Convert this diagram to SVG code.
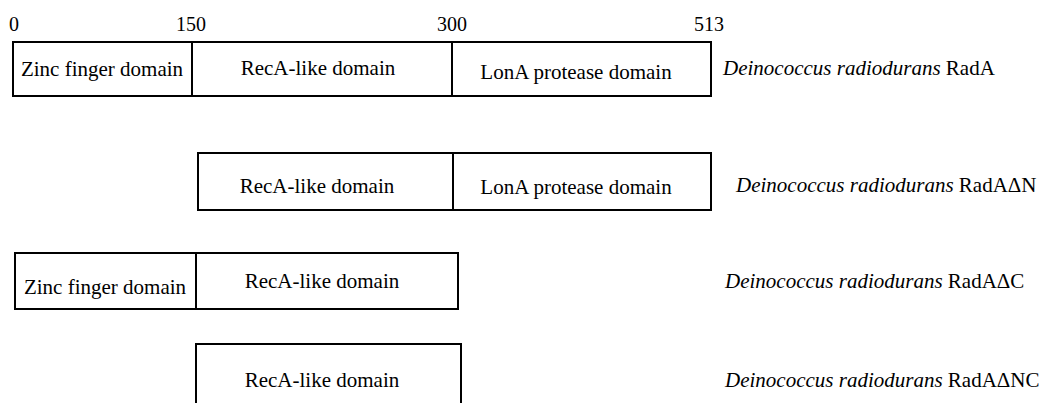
<svg xmlns="http://www.w3.org/2000/svg" width="1042" height="403" viewBox="0 0 1042 403">
<style>
.box{fill:#fff;stroke:#000;stroke-width:2}
.div{stroke:#000;stroke-width:2;fill:none}
text{font-family:'Liberation Serif','Times New Roman',serif;font-size:21px;fill:#000}
.num{font-size:20px;text-anchor:middle}
.c{text-anchor:middle}
.sp{font-style:italic}
</style>
<rect width="1042" height="403" fill="#fff"/>
<g id="scale">
<text class="num" x="14" y="31">0</text>
<text class="num" x="191" y="31">150</text>
<text class="num" x="452" y="31">300</text>
<text class="num" x="709" y="31">513</text>
</g>
<g id="radA">
<rect class="box" x="13" y="42" width="698" height="54"/>
<line class="div" x1="192" y1="42" x2="192" y2="96"/>
<line class="div" x1="452" y1="42" x2="452" y2="96"/>
<text class="c" x="102" y="76">Zinc finger domain</text>
<text class="c" x="318" y="75">RecA-like domain</text>
<text class="c" x="576" y="79">LonA protease domain</text>
<text x="723" y="75"><tspan class="sp">Deinococcus radiodurans</tspan> RadA</text>
</g>
<g id="radAdN">
<rect class="box" x="198" y="153" width="513" height="57"/>
<line class="div" x1="453" y1="153" x2="453" y2="210"/>
<text class="c" x="317" y="193">RecA-like domain</text>
<text class="c" x="576" y="194">LonA protease domain</text>
<text x="736" y="192"><tspan class="sp">Deinococcus radiodurans</tspan> RadAΔN</text>
</g>
<g id="radAdC">
<rect class="box" x="15" y="253" width="443" height="56"/>
<line class="div" x1="196" y1="253" x2="196" y2="309"/>
<text class="c" x="105" y="294">Zinc finger domain</text>
<text class="c" x="322" y="288">RecA-like domain</text>
<text x="725" y="288"><tspan class="sp">Deinococcus radiodurans</tspan> RadAΔC</text>
</g>
<g id="radAdNC">
<path class="div" d="M196,410 V344 H461 V410"/>
<text class="c" x="322" y="387">RecA-like domain</text>
<text x="725" y="387"><tspan class="sp">Deinococcus radiodurans</tspan> RadAΔNC</text>
</g>
</svg>
